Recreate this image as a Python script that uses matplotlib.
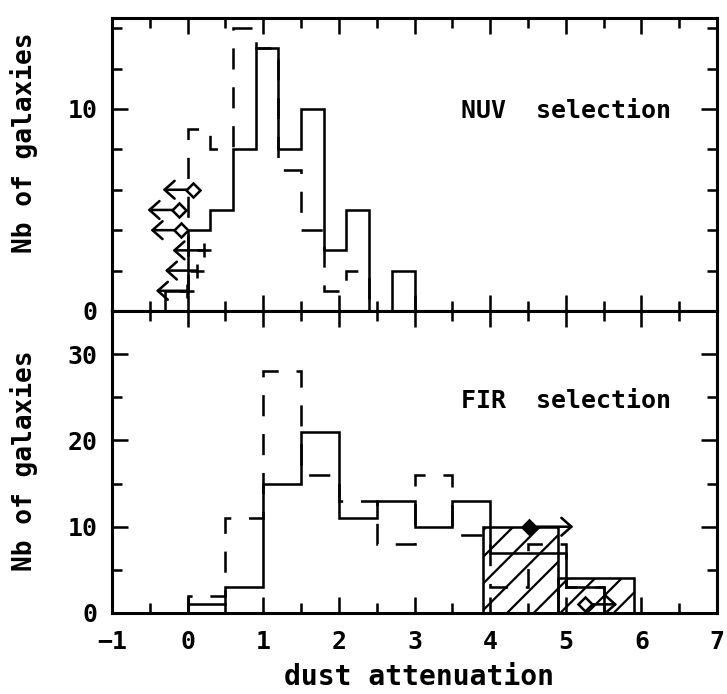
import numpy as np
import matplotlib
matplotlib.use('Agg')
import matplotlib.pyplot as plt
from matplotlib.ticker import MultipleLocator

# NUV selected sample, bins of 0.3 mag
nuv_edges = [-0.3, 0.0, 0.3, 0.6, 0.9, 1.2, 1.5, 1.8, 2.1, 2.4, 2.7, 3.0]
nuv_solid = [1, 4, 5, 8, 13, 8, 10, 3, 5, 0, 2]
nuv_dashed = [0, 9, 8, 14, 13, 7, 4, 1, 2, 0, 0]

# upper limits in the NUV panel (x, y, arrow end)
nuv_diam_x = [0.07, -0.11, -0.09]
nuv_diam_y = [6, 5, 4]
nuv_diam_end = [-0.33, -0.53, -0.49]
nuv_plus_x = [0.22, 0.12, -0.01]
nuv_plus_y = [3, 2, 1]
nuv_plus_end = [-0.20, -0.30, -0.42]

# FIR selected sample, bins of 0.5 mag
fir_edges = [0.0, 0.5, 1.0, 1.5, 2.0, 2.5, 3.0, 3.5, 4.0, 4.5, 5.0, 5.5, 6.0]
fir_solid = [1, 3, 15, 21, 11, 13, 10, 13, 7, 7, 3, 0]
fir_dashed = [2, 11, 28, 16, 13, 8, 16, 9, 3, 8, 3, 0]

# hatched lower limits
hatch_left = [3.9, 4.9]
hatch_counts = [10, 4]

# lower limits in the FIR panel
fir_fill_x, fir_fill_y, fir_fill_end = [4.52], [10], [5.10]
fir_open_x, fir_open_y, fir_open_end = [5.26], [1], [5.68]

DPI = 160
LW = 1.15
FONT = 'DejaVu Sans Mono'
plt.rcParams['font.family'] = FONT
plt.rcParams['font.weight'] = 'bold'
plt.rcParams['hatch.linewidth'] = 1.0
plt.rcParams['hatch.color'] = 'black'

fig = plt.figure(figsize=(727 / DPI, 694 / DPI), dpi=DPI)
left, width = 112 / 727, 605 / 727
ax1 = fig.add_axes([left, 1 - 311 / 694, width, 293 / 694])
ax2 = fig.add_axes([left, 1 - 613 / 694, width, 302 / 694])

dash = (0, (9.5 / LW, 8 / LW))


def style_axis(ax, ymax, ymajor, yminor, show_x):
    ax.set_xlim(-1, 7)
    ax.set_ylim(0, ymax)
    ax.xaxis.set_major_locator(MultipleLocator(1))
    ax.xaxis.set_minor_locator(MultipleLocator(0.5))
    ax.yaxis.set_major_locator(MultipleLocator(ymajor))
    ax.yaxis.set_minor_locator(MultipleLocator(yminor))
    ax.tick_params(which='both', direction='in', top=True, right=True,
                   width=LW, labelsize=11.2, colors='black')
    ax.tick_params(which='major', length=7.2)
    ax.tick_params(which='minor', length=4.3)
    ax.tick_params(axis='y', pad=6.5)
    ax.tick_params(axis='x', pad=7.5, labelbottom=show_x)
    for s in ax.spines.values():
        s.set_linewidth(LW * 1.2)


def limit_arrows(ax, xs, ys, ends):
    for x, y, e in zip(xs, ys, ends):
        ax.annotate('', xy=(e, y), xytext=(x, y),
                    arrowprops=dict(arrowstyle='->,head_length=0.45,head_width=0.4',
                                    lw=LW, color='black', shrinkA=0, shrinkB=0,
                                    mutation_scale=10))


# top panel
ax1.stairs(nuv_solid, nuv_edges, color='black', lw=LW)
ax1.stairs(nuv_dashed, nuv_edges, color='black', lw=LW, linestyle=dash)
limit_arrows(ax1, nuv_diam_x, nuv_diam_y, nuv_diam_end)
limit_arrows(ax1, nuv_plus_x, nuv_plus_y, nuv_plus_end)
ax1.plot(nuv_diam_x, nuv_diam_y, 'D', ms=4.2, mfc='white', mec='black', mew=LW, zorder=5)
ax1.plot(nuv_plus_x, nuv_plus_y, '+', ms=6.5, mec='black', mew=LW, zorder=5)
ax1.text(5.0, 9.56, 'NUV  selection', ha='center', va='baseline', fontsize=11.2)
style_axis(ax1, 14.5, 10, 2, False)

# bottom panel
ax2.bar(hatch_left, hatch_counts, width=1.0, align='edge', fill=False,
        hatch='//', edgecolor='black', lw=LW)
ax2.stairs(fir_solid, fir_edges, color='black', lw=LW)
ax2.stairs(fir_dashed, fir_edges, color='black', lw=LW, linestyle=dash)
limit_arrows(ax2, fir_fill_x, fir_fill_y, fir_fill_end)
limit_arrows(ax2, fir_open_x, fir_open_y, fir_open_end)
ax2.plot(fir_fill_x, fir_fill_y, 'D', ms=4.2, mfc='black', mec='black', mew=LW, zorder=5)
ax2.plot(fir_open_x, fir_open_y, 'D', ms=4.2, mfc='white', mec='black', mew=LW, zorder=5)
ax2.text(5.0, 23.8, 'FIR  selection', ha='center', va='baseline', fontsize=11.2)
style_axis(ax2, 35, 10, 5, True)

fig.text(24 / 727, 1 - 143 / 694, 'Nb of galaxies', rotation=90,
         ha='center', va='center', fontsize=11.8)
fig.text(24 / 727, 1 - 461 / 694, 'Nb of galaxies', rotation=90,
         ha='center', va='center', fontsize=11.8)
fig.text(419 / 727, 1 - 685 / 694, 'dust attenuation', ha='center',
         va='baseline', fontsize=12.6)

fig.savefig('out.png', dpi=DPI)
